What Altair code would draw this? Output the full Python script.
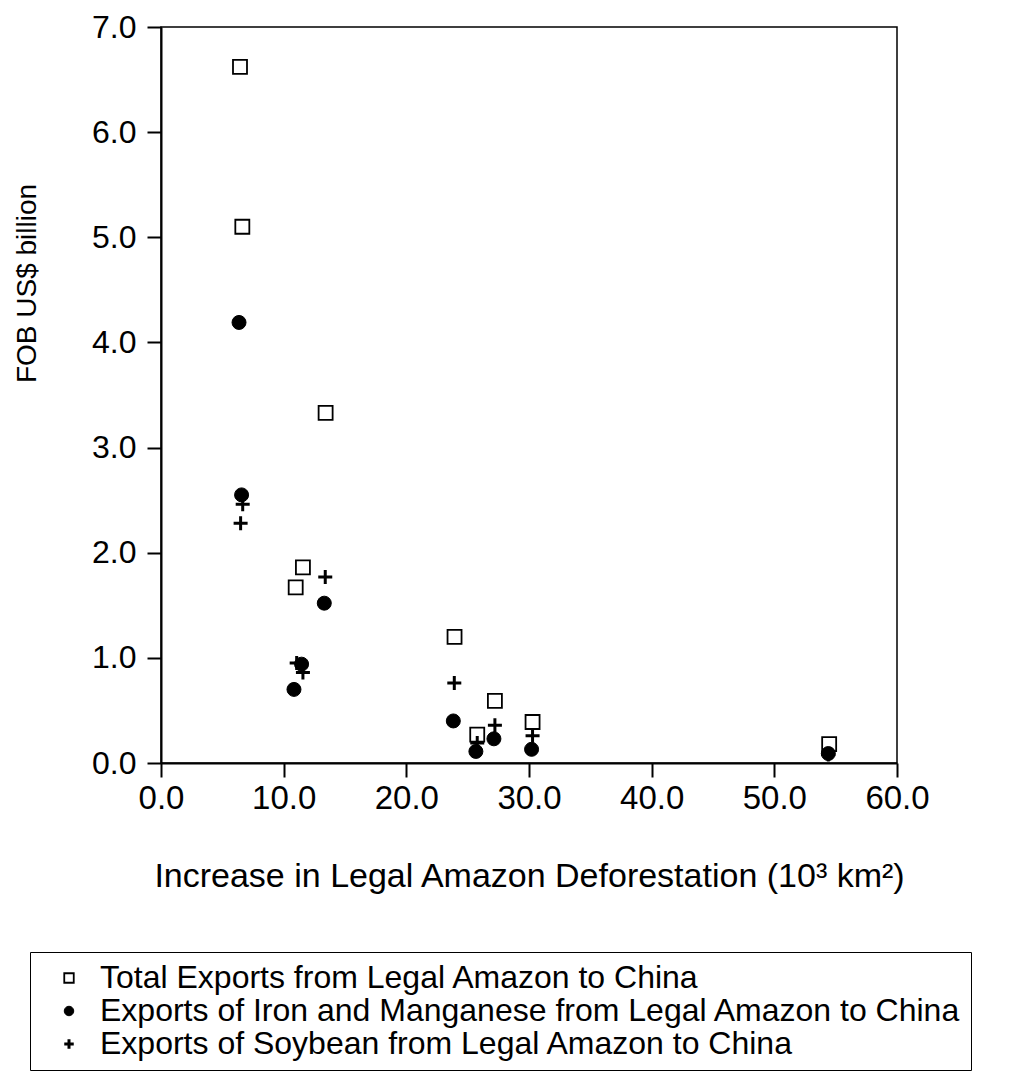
import altair as alt
import pandas as pd

series_names = [
    "Total Exports from Legal Amazon to China",
    "Exports of Iron and Manganese from Legal Amazon to China",
    "Exports of Soybean from Legal Amazon to China",
]

# Increase in Legal Amazon deforestation (10^3 km2) and exports (FOB US$ billion)
total_x = [6.44, 6.63, 13.42, 11.57, 10.98, 23.93, 27.22, 25.78, 30.29, 54.47]
total_y = [6.62, 5.10, 3.33, 1.86, 1.67, 1.20, 0.59, 0.27, 0.39, 0.18]

iron_x = [6.36, 6.57, 13.31, 11.46, 10.84, 23.83, 27.14, 25.67, 30.21, 54.40]
iron_y = [4.19, 2.55, 1.52, 0.94, 0.70, 0.40, 0.23, 0.11, 0.13, 0.09]

soy_x = [6.49, 6.66, 13.39, 11.57, 11.06, 23.91, 27.22, 25.78, 30.29, 54.40]
soy_y = [2.28, 2.46, 1.77, 0.86, 0.95, 0.76, 0.36, 0.19, 0.26, 0.08]

x_ticks = [0, 10, 20, 30, 40, 50, 60]
y_ticks = [0, 1, 2, 3, 4, 5, 6, 7]

rows = []
for name, xs, ys in zip(series_names, [total_x, iron_x, soy_x], [total_y, iron_y, soy_y]):
    for xv, yv in zip(xs, ys):
        rows.append({"series": name, "x": xv, "y": yv})
df = pd.DataFrame(rows)

PLUS = "M-1,0H1M0,-1V1"
FONT = "Liberation Sans"

legend = alt.Legend(
    orient="none", legendX=-131, legendY=925, title=None,
    strokeColor="black", padding=10, labelFontSize=32, labelColor="black",
    symbolSize=90, symbolOffset=13, labelOffset=15, rowPadding=1,
    symbolStrokeColor="black", symbolStrokeWidth=2, labelLimit=1000,
)

chart = alt.Chart(df).mark_point(size=196, opacity=1).encode(
    x=alt.X(
        "x:Q",
        scale=alt.Scale(domain=[0, 60], nice=False, zero=False),
        axis=alt.Axis(
            values=x_ticks, format=".1f", title="Increase in Legal Amazon Deforestation (10³ km²)",
            labelFontSize=33, titleFontSize=34, tickSize=14, tickWidth=2, domainWidth=2,
            labelPadding=5, titlePadding=44, grid=False, labelColor="black", titleColor="black",
            domainColor="black", tickColor="black", titleFontWeight="normal", labelFlush=False,
        ),
    ),
    y=alt.Y(
        "y:Q",
        scale=alt.Scale(domain=[0, 7], nice=False, zero=False),
        axis=alt.Axis(
            values=y_ticks, format=".1f", title="FOB US$ billion",
            labelFontSize=32, titleFontSize=28, tickSize=14, tickWidth=2, domainWidth=2,
            labelPadding=11, titlePadding=50, titleY=256, titleAlign="center",
            grid=False, labelColor="black", titleColor="black",
            domainColor="black", tickColor="black", titleFontWeight="normal", labelFlush=False,
        ),
    ),
    shape=alt.Shape(
        "series:N",
        scale=alt.Scale(domain=series_names, range=["square", "circle", PLUS]),
        legend=legend,
    ),
    fill=alt.Fill(
        "series:N",
        scale=alt.Scale(domain=series_names, range=["transparent", "black", "transparent"]),
        legend=legend,
    ),
    stroke=alt.Stroke(
        "series:N",
        scale=alt.Scale(domain=series_names, range=["black", "black", "black"]),
        legend=legend,
    ),
    strokeWidth=alt.StrokeWidth(
        "series:N",
        scale=alt.Scale(type="ordinal", domain=series_names, range=[1.8, 1, 3]),
        legend=None,
    ),
).properties(
    width=736,
    height=736,
    autosize=alt.AutoSizeParams(type="none"),
    padding={"left": 153, "top": 19, "right": 122, "bottom": 310},
).configure(
    font=FONT,
    background="white",
).configure_view(
    stroke="black",
    strokeWidth=1.5,
)

chart.save("out.html", embed_options={"renderer": "svg", "actions": False})
